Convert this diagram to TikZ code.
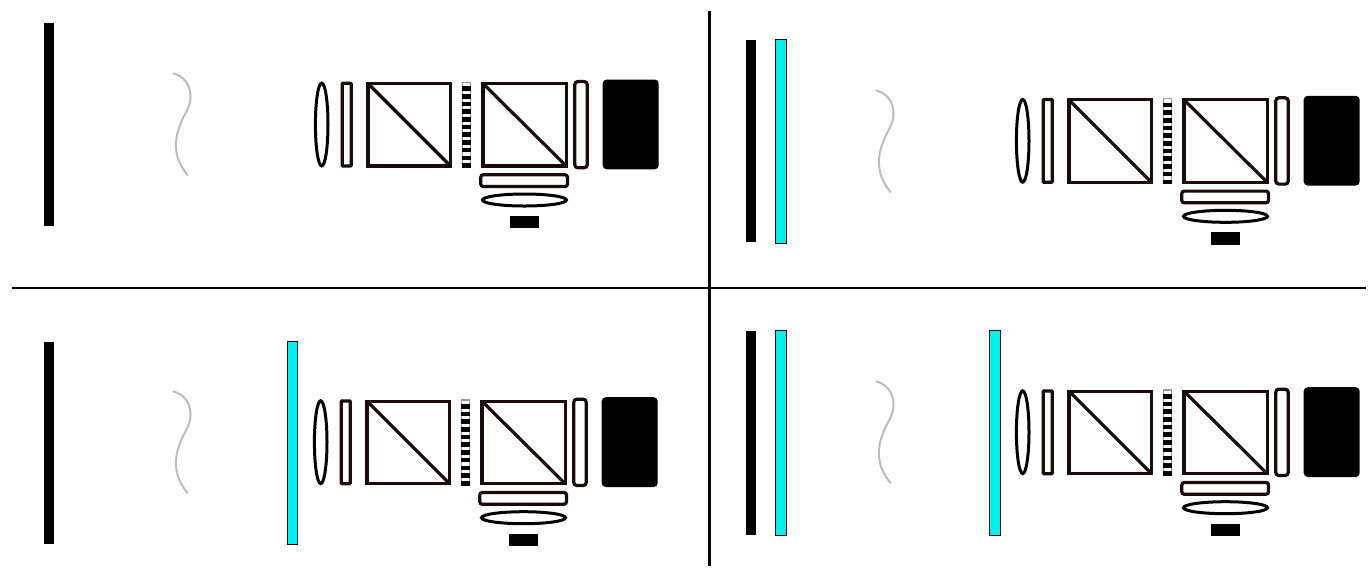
\documentclass[tikz,border=0pt]{standalone}
\definecolor{frame}{HTML}{1A0A0A}
\definecolor{cyanplate}{HTML}{00F0F0}
\definecolor{wave}{HTML}{BDBDBD}
\tikzset{
  x=0.5pt,y=-0.5pt,
  part/.style={draw=frame,line width=1.6pt,fill=white},
  lensshape/.style={draw=black,line width=1.5pt,fill=white},
  cyanpart/.style={fill=cyanplate,draw=black,line width=0.5pt},
  wavepath/.style={draw=wave,line width=1pt,line cap=round},
  divider/.style={draw=black,line width=1.25pt},
  optics/.pic={
    \draw[lensshape] (321.7,124.5) ellipse [x radius=6.3,y radius=41.4];
    \draw[part,rounded corners=0.4pt] (342.2,83.2) rectangle (351.2,166);
    \draw[part] (368,83.5) rectangle (450.5,166);
    \draw[part] (368,83.5) -- (450.5,166);
    \draw[draw=gray!80,line width=0.6pt,fill=white] (462.2,82.2) rectangle (470.2,166.8);
    \foreach \k in {0,...,10}
      \fill[black] (461.7,86.2+7.7*\k) rectangle (470.7,90.8+7.7*\k);
    \draw[part] (483,83.5) rectangle (566.2,166);
    \draw[part] (483,83.5) -- (566.2,166);
    \draw[part,rounded corners=1.5pt] (574.8,81.5) rectangle (587.2,167.8);
    \fill[black,rounded corners=2pt] (602.7,79.5) rectangle (658.7,169.3);
    \draw[part,rounded corners=1.2pt] (480.8,174.8) rectangle (567.5,186.5);
    \draw[lensshape] (524.5,200) ellipse [x radius=42,y radius=6];
    \fill[black] (510,216) rectangle (539.3,228.3);
  },
  wavepic/.pic={
    \draw[wavepath] (173.5,73.5) .. controls (183,76) and (190.5,84) .. (190.5,96.5)
      .. controls (190.5,108) and (184,114) .. (180.5,124)
      .. controls (177,133) and (175.5,139) .. (176,148)
      .. controls (176.5,158) and (181,167) .. (187.5,175);
  }
}
\begin{document}
\begin{tikzpicture}
\useasboundingbox (0,0) rectangle (1371,570);
\fill[white] (0,0) rectangle (1371,570);
% top left
\fill[black] (43.5,23) rectangle (54,226);
\pic at (0,0) {wavepic};
\pic at (0,0) {optics};
% top right
\fill[black] (746,40) rectangle (756,242);
\draw[cyanpart] (775.5,39.5) rectangle (786,243);
\pic at (703,17) {wavepic};
\pic at (701,16.3) {optics};
% bottom left
\fill[black] (44,342) rectangle (54,544);
\draw[cyanpart] (287,341.5) rectangle (297.5,544);
\pic at (0,318) {wavepic};
\pic at (-1,317.7) {optics};
% bottom right
\fill[black] (746,331) rectangle (756,535);
\draw[cyanpart] (775.5,330.5) rectangle (786,535);
\draw[cyanpart] (989.5,330.5) rectangle (1000,535);
\pic at (703,308) {wavepic};
\pic at (701,307.7) {optics};
% dividers
\draw[divider] (12,288) -- (1366,288);
\draw[divider] (709.5,11) -- (709.5,566);
\end{tikzpicture}
\end{document}
